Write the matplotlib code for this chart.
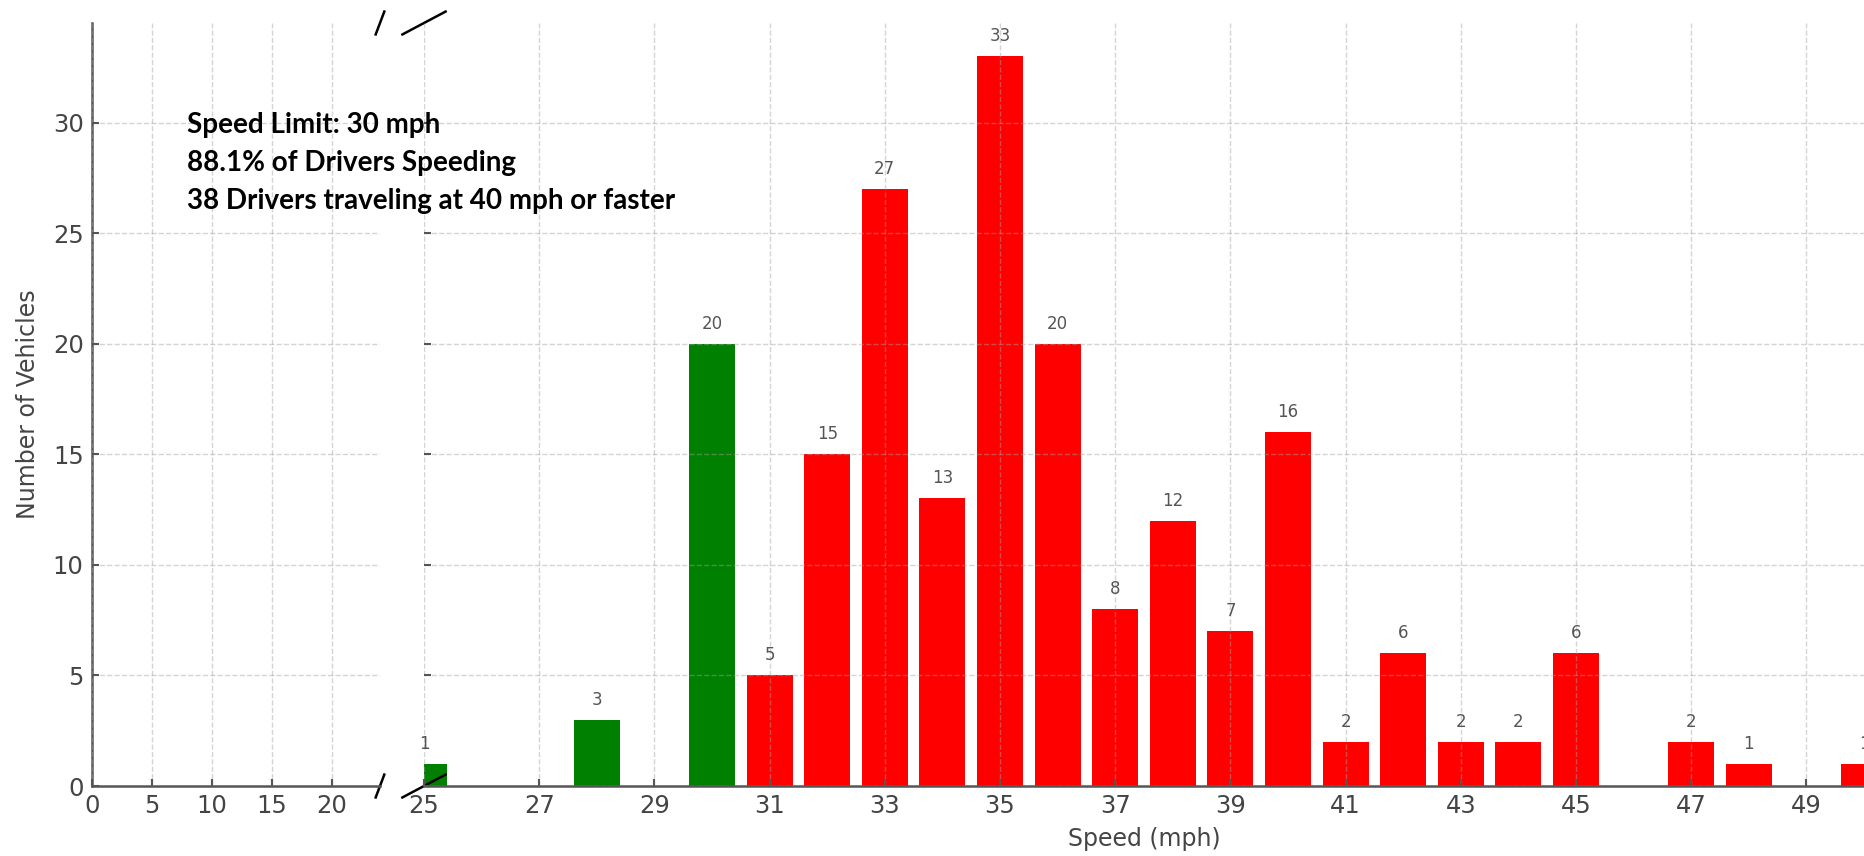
import matplotlib
matplotlib.use("Agg")
import matplotlib.pyplot as plt

speeds = [25, 28, 30, 31, 32, 33, 34, 35, 36, 37, 38, 39, 40, 41, 42, 43, 44, 45, 47, 48, 50]
counts = [1, 3, 20, 5, 15, 27, 13, 33, 20, 8, 12, 7, 16, 2, 6, 2, 2, 6, 2, 1, 1]
speed_limit = 30
left_ticks = [0, 5, 10, 15, 20]
right_ticks = [25, 27, 29, 31, 33, 35, 37, 39, 41, 43, 45, 47, 49]
y_ticks = [0, 5, 10, 15, 20, 25, 30]
info_lines = ["Speed Limit: 30 mph",
              "88.1% of Drivers Speeding",
              "38 Drivers traveling at 40 mph or faster"]

W, H = 1865, 856
fig = plt.figure(figsize=(W / 100, H / 100), dpi=100)

def fx(px):
    return px / W

def fy(py):
    return 1 - py / H

top, bottom = 23, 786
ax1 = fig.add_axes([fx(92), fy(bottom), fx(380) - fx(92), fy(top) - fy(bottom)])
ax2 = fig.add_axes([fx(424), fy(bottom), fx(1864) - fx(424), fy(top) - fy(bottom)])

colors = ["green" if s <= speed_limit else "red" for s in speeds]
text_gray = "#444444"
spine_gray = "#555555"

for ax in (ax1, ax2):
    ax.bar(speeds, counts, width=0.8, color=colors)
    ax.set_ylim(0, 34.5)
    ax.set_yticks(y_ticks)
    ax.set_axisbelow(False)
    ax.grid(True, linestyle="--", color="#a0a0a0", alpha=0.45, linewidth=1.0)
    ax.tick_params(direction="in", length=5, width=1.5, colors=spine_gray,
                   labelcolor=text_gray, labelsize=17.5, pad=6)
    ax.spines["top"].set_visible(False)
    for s in ax.spines.values():
        s.set_color(spine_gray)
        s.set_linewidth(1.8)

ax1.set_xlim(0, 24)
ax1.set_xticks(left_ticks)
ax1.spines["right"].set_visible(False)

ax2.set_xlim(25, 50)
ax2.set_xticks(right_ticks)
ax2.spines["left"].set_visible(False)
ax2.spines["right"].set_visible(False)
ax2.tick_params(axis="y", left=True, labelleft=False)

for s, c in zip(speeds, counts):
    ax2.text(s, c + 0.5, str(c), ha="center", va="bottom", fontsize=12, color="#555555")

ax1.set_ylabel("Number of Vehicles", fontsize=17, color=text_gray)
ax1.yaxis.set_label_coords(-0.18, 0.5)
ax2.set_xlabel("Speed (mph)", fontsize=17, color=text_gray, labelpad=6)

# broken axis marks
d = 0.015
kw = dict(color="k", clip_on=False, linewidth=1.8)
ax1.plot((1 - d, 1 + d), (-d, d), transform=ax1.transAxes, **kw)
ax1.plot((1 - d, 1 + d), (1 - d, 1 + d), transform=ax1.transAxes, **kw)
ax2.plot((-d, d), (-d, d), transform=ax2.transAxes, **kw)
ax2.plot((-d, d), (1 - d, 1 + d), transform=ax2.transAxes, **kw)

for i, line in enumerate(info_lines):
    fig.text(fx(187), fy(133 + 38 * i), line, fontsize=20, fontweight="bold",
             family=["Lato", "DejaVu Sans"], color="black", va="baseline", ha="left")

fig.savefig("out.png", dpi=100)
